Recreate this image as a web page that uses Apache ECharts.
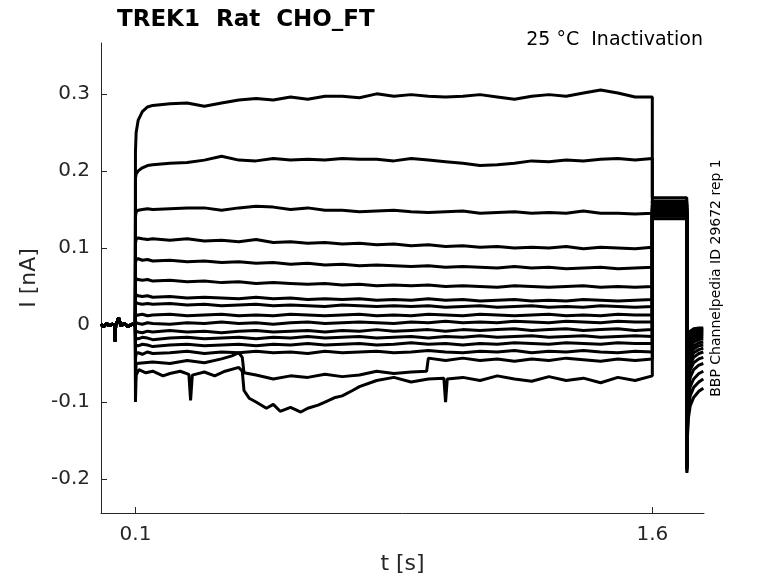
<!DOCTYPE html>
<html>
<head>
<meta charset="utf-8">
<script src="https://cdn.jsdelivr.net/npm/echarts@6/dist/echarts.min.js"></script>
<style>
  html, body { margin: 0; padding: 0; background: #fff; }
  #chart { width: 778px; height: 583px; }
</style>
</head>
<body>
<div id="chart"></div>
<script>
// holding potential before the step (same for every sweep)
var baseT = [0, 0.008, 0.016, 0.024, 0.032, 0.04, 0.041, 0.0425, 0.046, 0.051, 0.058, 0.068, 0.078, 0.09, 0.0995];
var baseI = [0.001, -0.002, 0.002, -0.001, 0.001, 0.0, -0.021, 0.0, 0.003, 0.009, -0.001, 0.002, -0.002, 0.001, 0.0];

// step phase, 0.1 .. 1.6 s
var stepT = [0.1, 0.102, 0.108, 0.12, 0.135, 0.15, 0.2, 0.25, 0.3, 0.35, 0.4, 0.45, 0.5, 0.55, 0.6, 0.65, 0.7, 0.75, 0.8, 0.85, 0.9, 0.95, 1.0, 1.05, 1.1, 1.15, 1.2, 1.25, 1.3, 1.35, 1.4, 1.45, 1.5, 1.55, 1.6];
var i1  = [0.225, 0.25, 0.266, 0.277, 0.283, 0.285, 0.287, 0.288, 0.284, 0.288, 0.292, 0.294, 0.292, 0.296, 0.293, 0.297, 0.297, 0.295, 0.3, 0.297, 0.299, 0.297, 0.296, 0.297, 0.299, 0.296, 0.293, 0.297, 0.299, 0.297, 0.301, 0.305, 0.301, 0.296, 0.296];
var i2  = [0.19, 0.196, 0.2, 0.204, 0.207, 0.208, 0.21, 0.211, 0.214, 0.219, 0.214, 0.213, 0.216, 0.214, 0.215, 0.214, 0.216, 0.215, 0.215, 0.213, 0.216, 0.214, 0.212, 0.21, 0.207, 0.208, 0.21, 0.213, 0.212, 0.214, 0.213, 0.215, 0.216, 0.214, 0.216];
var i3  = [0.14, 0.147, 0.149, 0.15, 0.151, 0.15, 0.151, 0.152, 0.152, 0.149, 0.152, 0.154, 0.153, 0.15, 0.152, 0.149, 0.149, 0.147, 0.148, 0.149, 0.147, 0.146, 0.147, 0.148, 0.145, 0.146, 0.147, 0.145, 0.146, 0.145, 0.148, 0.145, 0.145, 0.144, 0.145];
var i4  = [0.105, 0.112, 0.113, 0.112, 0.111, 0.112, 0.11, 0.112, 0.109, 0.11, 0.108, 0.111, 0.107, 0.108, 0.106, 0.107, 0.105, 0.106, 0.104, 0.105, 0.103, 0.104, 0.102, 0.103, 0.101, 0.102, 0.1, 0.101, 0.1, 0.102, 0.099, 0.101, 0.1, 0.099, 0.101];
var i5  = [0.08, 0.085, 0.086, 0.084, 0.085, 0.083, 0.084, 0.082, 0.083, 0.081, 0.082, 0.08, 0.081, 0.079, 0.08, 0.078, 0.079, 0.077, 0.078, 0.077, 0.076, 0.077, 0.075, 0.076, 0.075, 0.074, 0.076, 0.074, 0.075, 0.073, 0.074, 0.075, 0.073, 0.074, 0.075];
var i6  = [0.055, 0.06, 0.059, 0.058, 0.059, 0.057, 0.058, 0.056, 0.057, 0.055, 0.056, 0.054, 0.055, 0.054, 0.053, 0.054, 0.052, 0.053, 0.051, 0.052, 0.051, 0.052, 0.05, 0.051, 0.05, 0.049, 0.051, 0.05, 0.049, 0.05, 0.051, 0.049, 0.05, 0.049, 0.05];
var i7  = [0.035, 0.039, 0.038, 0.037, 0.038, 0.036, 0.037, 0.035, 0.036, 0.035, 0.034, 0.036, 0.034, 0.035, 0.033, 0.034, 0.033, 0.034, 0.032, 0.033, 0.032, 0.034, 0.032, 0.033, 0.031, 0.032, 0.033, 0.031, 0.032, 0.031, 0.033, 0.032, 0.031, 0.032, 0.033];
var i8  = [0.026, 0.029, 0.028, 0.027, 0.028, 0.027, 0.028, 0.026, 0.027, 0.025, 0.026, 0.027, 0.025, 0.026, 0.025, 0.024, 0.026, 0.025, 0.024, 0.025, 0.024, 0.025, 0.023, 0.024, 0.025, 0.023, 0.024, 0.025, 0.023, 0.024, 0.023, 0.025, 0.024, 0.023, 0.024];
var i9  = [0.012, 0.014, 0.013, 0.014, 0.012, 0.013, 0.014, 0.012, 0.013, 0.014, 0.012, 0.013, 0.012, 0.014, 0.013, 0.012, 0.013, 0.014, 0.012, 0.013, 0.012, 0.014, 0.013, 0.012, 0.014, 0.013, 0.012, 0.013, 0.014, 0.012, 0.013, 0.012, 0.014, 0.013, 0.013];
var i10 = [0.0, 0.003, 0.002, 0.001, 0.003, 0.002, 0.001, 0.003, 0.002, 0.004, 0.002, 0.003, 0.001, 0.003, 0.004, 0.002, 0.003, 0.004, 0.003, 0.002, 0.004, 0.003, 0.005, 0.003, 0.004, 0.003, 0.005, 0.004, 0.003, 0.005, 0.004, 0.003, 0.005, 0.004, 0.004];
var i11 = [-0.012, -0.008, -0.009, -0.01, -0.008, -0.009, -0.007, -0.009, -0.008, -0.01, -0.008, -0.007, -0.009, -0.008, -0.007, -0.009, -0.007, -0.008, -0.006, -0.008, -0.007, -0.006, -0.008, -0.006, -0.007, -0.006, -0.005, -0.007, -0.006, -0.005, -0.007, -0.006, -0.005, -0.007, -0.006];
var i12 = [-0.02, -0.017, -0.018, -0.016, -0.017, -0.019, -0.017, -0.016, -0.018, -0.017, -0.016, -0.018, -0.016, -0.017, -0.015, -0.017, -0.016, -0.015, -0.017, -0.016, -0.015, -0.017, -0.015, -0.016, -0.014, -0.016, -0.015, -0.014, -0.016, -0.015, -0.014, -0.016, -0.015, -0.014, -0.015];
var i13 = [-0.03, -0.026, -0.027, -0.025, -0.026, -0.028, -0.026, -0.025, -0.027, -0.026, -0.025, -0.027, -0.025, -0.026, -0.024, -0.026, -0.025, -0.024, -0.026, -0.025, -0.023, -0.025, -0.024, -0.026, -0.024, -0.025, -0.023, -0.024, -0.025, -0.023, -0.024, -0.025, -0.023, -0.024, -0.024];
var i14 = [-0.045, -0.037, -0.036, -0.038, -0.035, -0.037, -0.036, -0.034, -0.037, -0.035, -0.036, -0.034, -0.036, -0.035, -0.037, -0.034, -0.036, -0.035, -0.034, -0.036, -0.035, -0.033, -0.035, -0.036, -0.034, -0.035, -0.033, -0.036, -0.034, -0.035, -0.033, -0.035, -0.036, -0.034, -0.035];

// the two lowest sweeps have jumps, so they get their own time points
var tB = [0.1, 0.102, 0.15, 0.2, 0.25, 0.3, 0.35, 0.38, 0.4, 0.41, 0.415, 0.45, 0.5, 0.55, 0.6, 0.65, 0.7, 0.75, 0.8, 0.85, 0.9, 0.945, 0.95, 1.0, 1.05, 1.1, 1.15, 1.2, 1.25, 1.3, 1.35, 1.4, 1.45, 1.5, 1.55, 1.6];
var i15 = [-0.075, -0.05, -0.048, -0.05, -0.046, -0.049, -0.044, -0.04, -0.036, -0.042, -0.062, -0.065, -0.07, -0.066, -0.068, -0.064, -0.067, -0.065, -0.06, -0.063, -0.061, -0.06, -0.043, -0.046, -0.043, -0.046, -0.044, -0.047, -0.044, -0.046, -0.043, -0.045, -0.047, -0.044, -0.046, -0.044];
var tA = [0.1, 0.102, 0.11, 0.13, 0.15, 0.18, 0.2, 0.23, 0.255, 0.26, 0.265, 0.3, 0.33, 0.36, 0.4, 0.41, 0.415, 0.43, 0.45, 0.48, 0.5, 0.52, 0.55, 0.58, 0.6, 0.63, 0.65, 0.68, 0.7, 0.73, 0.75, 0.8, 0.85, 0.9, 0.95, 0.995, 1.0, 1.005, 1.05, 1.1, 1.15, 1.2, 1.25, 1.3, 1.35, 1.4, 1.45, 1.5, 1.55, 1.6];
var i16 = [-0.1, -0.065, -0.058, -0.062, -0.06, -0.066, -0.063, -0.06, -0.064, -0.098, -0.065, -0.061, -0.066, -0.06, -0.055, -0.06, -0.085, -0.095, -0.1, -0.108, -0.103, -0.112, -0.107, -0.113, -0.108, -0.104, -0.1, -0.094, -0.092, -0.085, -0.08, -0.072, -0.068, -0.074, -0.07, -0.069, -0.1, -0.07, -0.068, -0.072, -0.066, -0.07, -0.073, -0.067, -0.072, -0.069, -0.075, -0.068, -0.072, -0.066];

// second holding level 1.6 .. 1.7 s, one value per sweep
var holdI = [0.165, 0.158, 0.155, 0.152, 0.15, 0.148, 0.146, 0.145, 0.144, 0.143, 0.141, 0.147, 0.151, 0.156, 0.161, 0.138];

// tail after 1.7 s
var tailT = [1.7004, 1.702, 1.705, 1.71, 1.72, 1.735, 1.748];
var tail1  = [-0.17, -0.05, -0.015, -0.008, -0.005, -0.004, -0.004];
var tail2  = [-0.175, -0.06, -0.02, -0.01, -0.007, -0.006, -0.006];
var tail3  = [-0.18, -0.065, -0.025, -0.013, -0.009, -0.008, -0.008];
var tail4  = [-0.172, -0.07, -0.03, -0.016, -0.012, -0.01, -0.01];
var tail5  = [-0.178, -0.075, -0.034, -0.02, -0.015, -0.013, -0.012];
var tail6  = [-0.182, -0.08, -0.04, -0.024, -0.018, -0.016, -0.015];
var tail7  = [-0.176, -0.085, -0.045, -0.029, -0.022, -0.019, -0.018];
var tail8  = [-0.184, -0.09, -0.05, -0.034, -0.027, -0.023, -0.022];
var tail9  = [-0.18, -0.095, -0.056, -0.04, -0.031, -0.027, -0.026];
var tail10 = [-0.186, -0.1, -0.062, -0.045, -0.036, -0.032, -0.03];
var tail11 = [-0.183, -0.105, -0.068, -0.051, -0.042, -0.037, -0.035];
var tail12 = [-0.187, -0.11, -0.075, -0.058, -0.049, -0.044, -0.042];
var tail13 = [-0.185, -0.118, -0.085, -0.068, -0.058, -0.052, -0.05];
var tail14 = [-0.188, -0.125, -0.095, -0.08, -0.07, -0.063, -0.06];
var tail15 = [-0.19, -0.135, -0.108, -0.092, -0.081, -0.074, -0.07];
var tail16 = [-0.192, -0.145, -0.12, -0.105, -0.094, -0.086, -0.082];

var xTicks = [0.1, 1.6];
var yTicks = [-0.2, -0.1, 0, 0.1, 0.2, 0.3];

var stepI = [i1, i2, i3, i4, i5, i6, i7, i8, i9, i10, i11, i12, i13, i14, i15, i16];
var stepTimes = [stepT, stepT, stepT, stepT, stepT, stepT, stepT, stepT, stepT, stepT, stepT, stepT, stepT, stepT, tB, tA];
var tails = [tail1, tail2, tail3, tail4, tail5, tail6, tail7, tail8, tail9, tail10, tail11, tail12, tail13, tail14, tail15, tail16];

var series = [];
for (var s = 0; s < stepI.length; s++) {
  var pts = [];
  for (var k = 0; k < baseT.length; k++) pts.push([baseT[k], baseI[k]]);
  for (var k = 0; k < stepTimes[s].length; k++) pts.push([stepTimes[s][k], stepI[s][k]]);
  pts.push([1.6, holdI[s]]);
  pts.push([1.7, holdI[s]]);
  for (var k = 0; k < tailT.length; k++) pts.push([tailT[k], tails[s][k]]);
  series.push({
    name: 'sweep' + (s + 1),
    type: 'line',
    data: pts,
    showSymbol: false,
    symbol: 'none',
    lineStyle: { color: '#000', width: 3 },
    silent: true
  });
}

var axisGray = '#262626';
var chart = echarts.init(document.getElementById('chart'));
chart.setOption({
  animation: false,
  backgroundColor: '#fff',
  textStyle: { fontFamily: 'DejaVu Sans' },
  grid: { left: 101, right: 74, top: 43, bottom: 70, outerBoundsMode: 'none' },
  title: {
    text: 'TREK1  Rat  CHO_FT',
    left: 112, top: 4,
    textStyle: { fontFamily: 'DejaVu Sans', fontWeight: 'bold', fontSize: 23, color: '#000' }
  },
  graphic: [
    {
      type: 'text', right: 75, top: 31,
      style: { text: '25 °C  Inactivation', font: '19px "DejaVu Sans"', fill: '#000' }
    },
    {
      type: 'text', x: 716, y: 278, rotation: Math.PI / 2,
      style: { text: 'BBP Channelpedia ID 29672 rep 1', font: '14px "DejaVu Sans"', fill: '#000',
               align: 'center', verticalAlign: 'middle' }
    }
  ],
  xAxis: {
    type: 'value', min: 0, max: 1.75,
    name: 't [s]', nameLocation: 'middle', nameGap: 40,
    nameTextStyle: { fontSize: 22, color: axisGray },
    axisLine: { onZero: false, lineStyle: { color: axisGray, width: 1 } },
    axisTick: { inside: true, length: 6, customValues: xTicks, lineStyle: { color: axisGray } },
    axisLabel: { customValues: xTicks, fontSize: 20, color: axisGray, margin: 12 },
    splitLine: { show: false }
  },
  yAxis: {
    type: 'value', min: -0.244, max: 0.366,
    name: 'I [nA]', nameLocation: 'middle', nameGap: 60, nameRotate: 90,
    nameTextStyle: { fontSize: 22, color: axisGray },
    axisLine: { show: true, onZero: false, lineStyle: { color: axisGray, width: 1 } },
    axisTick: { show: true, inside: true, length: 6, customValues: yTicks, lineStyle: { color: axisGray } },
    axisLabel: { customValues: yTicks, fontSize: 20, color: axisGray, margin: 11 },
    splitLine: { show: false }
  },
  series: series
});
</script>
</body>
</html>
